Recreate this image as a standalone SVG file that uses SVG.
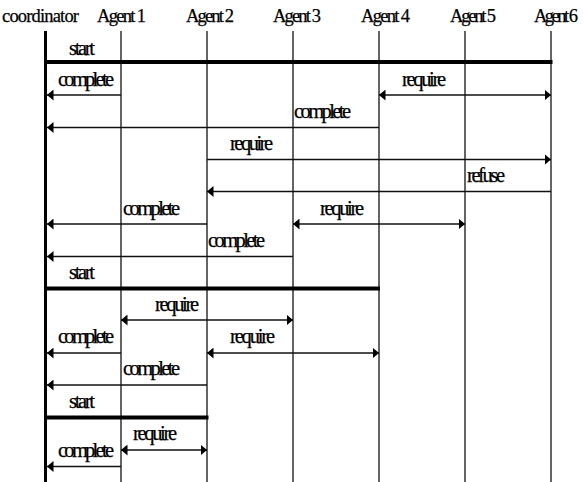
<svg xmlns="http://www.w3.org/2000/svg" width="583" height="482" viewBox="0 0 583 482">
<style>
text{font-family:"Liberation Serif","Times New Roman",serif;font-size:20.5px;fill:#000;stroke:#000;stroke-width:0.25}
text.hd{font-size:18.5px}
.life{stroke:#111;stroke-width:1.3}
.coord{stroke:#000;stroke-width:3}
.bar{stroke:#000;stroke-width:4}
.msg{stroke:#111;stroke-width:1.3;fill:none}
.one{marker-end:url(#ah)}
.two{marker-start:url(#ah);marker-end:url(#ah)}
</style>
<defs>
<marker id="ah" markerUnits="userSpaceOnUse" markerWidth="7" markerHeight="11" refX="6.5" refY="5.5" orient="auto-start-reverse">
<path d="M0,0 L6.5,5.5 L0,11 z" fill="#000"/>
</marker>
</defs>
<rect width="583" height="482" fill="#fff"/>
<g id="coordinator"><text class="hd" x="2" y="22" textLength="77">coordinator</text><line class="coord" x1="45.5" y1="31" x2="45.5" y2="482"/></g>
<g id="agent1"><text class="hd" x="97" y="22" textLength="49">Agent 1</text><line class="life" x1="121" y1="31" x2="121" y2="482"/></g>
<g id="agent2"><text class="hd" x="186" y="22" textLength="48">Agent 2</text><line class="life" x1="207" y1="31" x2="207" y2="482"/></g>
<g id="agent3"><text class="hd" x="273" y="22" textLength="48">Agent 3</text><line class="life" x1="293" y1="31" x2="293" y2="482"/></g>
<g id="agent4"><text class="hd" x="361" y="22" textLength="49">Agent 4</text><line class="life" x1="379" y1="31" x2="379" y2="482"/></g>
<g id="agent5"><text class="hd" x="450" y="22" textLength="46">Agent 5</text><line class="life" x1="465" y1="31" x2="465" y2="482"/></g>
<g id="agent6"><text class="hd" x="534" y="22" textLength="44">Agent 6</text><line class="life" x1="551" y1="31" x2="551" y2="482"/></g>
<g id="connectors">
<line class="bar" x1="44" y1="62" x2="552.5" y2="62"/>
<line class="bar" x1="44" y1="288.5" x2="380" y2="288.5"/>
<line class="bar" x1="44" y1="417.5" x2="208.5" y2="417.5"/>
<line class="msg one" x1="121" y1="95" x2="47" y2="95"/>
<line class="msg two" x1="379" y1="95" x2="551" y2="95"/>
<line class="msg one" x1="379" y1="127.5" x2="47" y2="127.5"/>
<line class="msg one" x1="207" y1="159.5" x2="551" y2="159.5"/>
<line class="msg one" x1="551" y1="191.5" x2="207" y2="191.5"/>
<line class="msg one" x1="207" y1="224" x2="47" y2="224"/>
<line class="msg two" x1="293" y1="224" x2="465" y2="224"/>
<line class="msg one" x1="293" y1="256.5" x2="47" y2="256.5"/>
<line class="msg two" x1="121" y1="320" x2="293" y2="320"/>
<line class="msg one" x1="121" y1="353" x2="47" y2="353"/>
<line class="msg two" x1="207" y1="353" x2="379" y2="353"/>
<line class="msg one" x1="207" y1="385" x2="47" y2="385"/>
<line class="msg two" x1="121" y1="450" x2="207" y2="450"/>
<line class="msg one" x1="121" y1="466.5" x2="47" y2="466.5"/>
</g>
<g id="labels">
<text x="69" y="55" textLength="26">start</text>
<text x="58" y="86" textLength="56">complete</text>
<text x="402" y="86" textLength="44">require</text>
<text x="294" y="118" textLength="57">complete</text>
<text x="230" y="150" textLength="43">require</text>
<text x="467" y="182" textLength="38">refuse</text>
<text x="123" y="215" textLength="57">complete</text>
<text x="320" y="215" textLength="44">require</text>
<text x="208" y="247" textLength="57">complete</text>
<text x="69" y="279" textLength="26">start</text>
<text x="155" y="311" textLength="44">require</text>
<text x="58" y="343" textLength="56">complete</text>
<text x="230" y="343" textLength="45">require</text>
<text x="123" y="375" textLength="57">complete</text>
<text x="69" y="408" textLength="26">start</text>
<text x="133" y="440" textLength="44">require</text>
<text x="58" y="457" textLength="56">complete</text>
</g>
</svg>
